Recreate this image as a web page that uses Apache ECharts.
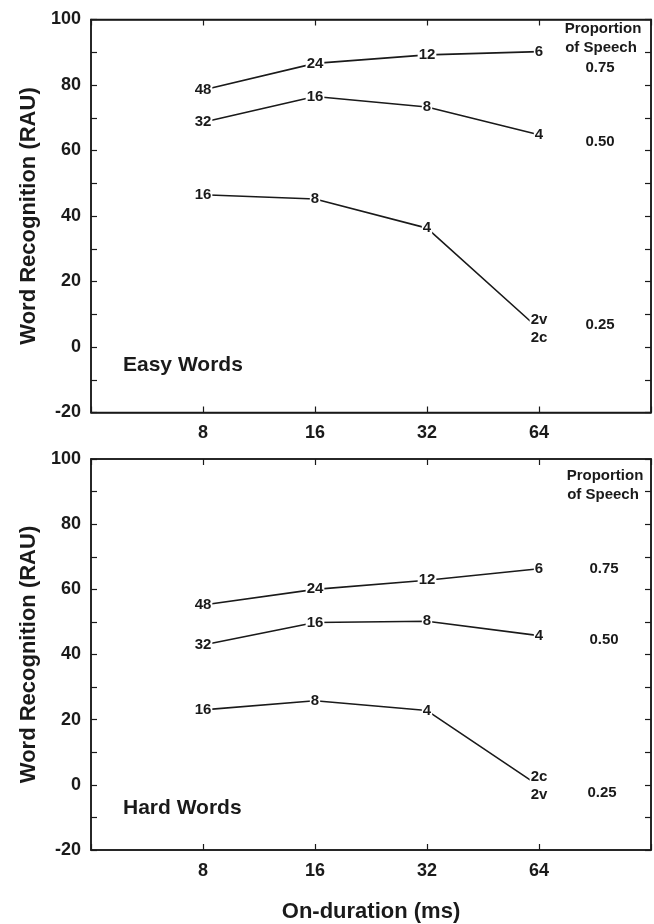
<!DOCTYPE html>
<html>
<head>
<meta charset="utf-8">
<script src="https://cdn.jsdelivr.net/npm/echarts@6/dist/echarts.min.js"></script>
<style>
	html, body { margin: 0; padding: 0; background: #fff; }
</style>
</head>
<body>
<div id="wordChart" style="width: 654px;height:924px;"></div>

<script>

// on-duration (ms), plotted on a log2 axis
var durations = [8, 16, 32, 64];

// Easy Words, word recognition (RAU)
var easy75 = [78.5, 86.6, 89.2, 90.2];
var easy50 = [68.6, 76.5, 73.3, 64.8];
var easy25 = [46.5, 45.2, 36.3, 5.5];

// Hard Words
var hard75 = [55.2, 60.0, 62.8, 66.3];
var hard50 = [42.9, 49.8, 50.2, 45.8];
var hard25 = [23.0, 25.8, 22.8, -0.3];

// numbers drawn at each point
var labels75 = ['48', '24', '12', '6'];
var labels50 = ['32', '16', '8', '4'];
var easyLabels25 = ['16', '8', '4', '2v\n2c'];
var hardLabels25 = ['16', '8', '4', '2c\n2v'];

var yTicks = { min: -20, max: 100, interval: 20 };
var proportions = ['0.75', '0.50', '0.25'];

var FONT = "'Liberation Sans', Arial, sans-serif";
var INK = '#1a1a1a';

var wordChart = echarts.init(document.getElementById('wordChart'));

function pairs(vals) {
	return durations.map(function (d, i) {
		return [d, vals[i]];
	});
}

function xAxisFor(grid, pos, withLabels, name) {
	return {
		type: 'log',
		logBase: 2,
		min: 4,
		max: 128,
		splitNumber: 5,
		gridIndex: grid,
		position: pos,
		name: name || '',
		nameLocation: 'middle',
		nameGap: 51,
		nameTextStyle: { fontFamily: FONT, fontSize: 22, fontWeight: 'bold', color: INK },
		axisLine: { show: true, onZero: false, lineStyle: { color: INK, width: 1.5 } },
		axisTick: { show: true, inside: true, length: 6, lineStyle: { color: INK, width: 1.2 } },
		axisLabel: {
			show: withLabels,
			margin: 12,
			fontFamily: FONT,
			fontSize: 18,
			fontWeight: 'bold',
			color: INK,
			formatter: function (v) {
				var r = Math.round(v);
				return (r === 4 || r === 128) ? '' : String(r);
			}
		},
		splitLine: { show: false }
	};
}

function yAxisFor(grid, pos, withLabels, name) {
	return {
		type: 'value',
		gridIndex: grid,
		position: pos,
		min: yTicks.min,
		max: yTicks.max,
		interval: yTicks.interval,
		name: name || '',
		nameLocation: 'middle',
		nameGap: 50,
		nameTextStyle: { fontFamily: FONT, fontSize: 22, fontWeight: 'bold', color: INK },
		axisLine: { show: true, onZero: false, lineStyle: { color: INK, width: 1.5 } },
		axisTick: { show: true, inside: true, length: 6, lineStyle: { color: INK, width: 1.2 } },
		minorTick: { show: true, splitNumber: 2, length: 6, lineStyle: { color: INK, width: 1.2 } },
		axisLabel: {
			show: withLabels,
			margin: 10,
			fontFamily: FONT,
			fontSize: 18,
			fontWeight: 'bold',
			color: INK
		},
		splitLine: { show: false }
	};
}

function lineSeries(grid, vals, labels) {
	return {
		type: 'line',
		xAxisIndex: grid * 2,
		yAxisIndex: grid * 2,
		data: pairs(vals),
		symbol: 'circle',
		symbolSize: 1,
		itemStyle: { color: INK },
		lineStyle: { color: INK, width: 1.6 },
		label: {
			show: true,
			position: 'inside',
			formatter: function (p) {
				return labels[p.dataIndex];
			},
			fontFamily: FONT,
			fontSize: 15,
			fontWeight: 'bold',
			color: INK,
			lineHeight: 18,
			backgroundColor: '#fff',
			padding: [0, 1]
		},
		silent: true
	};
}

function txt(x, y, text, size) {
	return {
		type: 'text',
		x: x,
		y: y,
		style: {
			text: text,
			font: 'bold ' + size + 'px ' + FONT,
			fill: INK,
			align: 'center',
			verticalAlign: 'middle'
		}
	};
}

function leftTxt(x, y, text, size) {
	var t = txt(x, y, text, size);
	t.style.align = 'left';
	return t;
}

wordChart.setOption({
	animation: false,
	backgroundColor: '#fff',
	grid: [
		{ left: 91, top: 19.5, width: 564, height: 393, show: true, borderColor: INK, borderWidth: 1.5 },
		{ left: 91, top: 459, width: 564, height: 393, show: true, borderColor: INK, borderWidth: 1.5 }
	],
	xAxis: [
		xAxisFor(0, 'bottom', true),
		xAxisFor(0, 'top', false),
		xAxisFor(1, 'bottom', true, 'On-duration (ms)'),
		xAxisFor(1, 'top', false)
	],
	yAxis: [
		yAxisFor(0, 'left', true, 'Word Recognition (RAU)'),
		yAxisFor(0, 'right', false),
		yAxisFor(1, 'left', true, 'Word Recognition (RAU)'),
		yAxisFor(1, 'right', false)
	],
	series: [
		lineSeries(0, easy75, labels75),
		lineSeries(0, easy50, labels50),
		lineSeries(0, easy25, easyLabels25),
		lineSeries(1, hard75, labels75),
		lineSeries(1, hard50, labels50),
		lineSeries(1, hard25, hardLabels25)
	],
	graphic: [
		leftTxt(123, 365, 'Easy Words', 21),
		leftTxt(123, 808, 'Hard Words', 21),
		txt(603, 29, 'Proportion', 15),
		txt(601, 48, 'of Speech', 15),
		txt(600, 68, proportions[0], 15),
		txt(600, 142, proportions[1], 15),
		txt(600, 325, proportions[2], 15),
		txt(605, 476, 'Proportion', 15),
		txt(603, 495, 'of Speech', 15),
		txt(604, 569, proportions[0], 15),
		txt(604, 640, proportions[1], 15),
		txt(602, 793, proportions[2], 15)
	]
});

</script>
</body>
</html>
